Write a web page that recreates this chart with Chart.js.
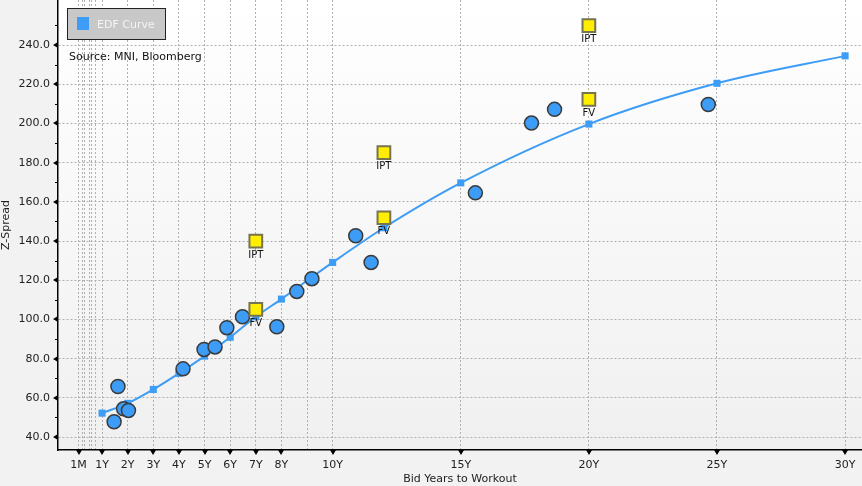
<!DOCTYPE html>
<html>
<head>
<meta charset="utf-8">
<script src="https://cdn.jsdelivr.net/npm/chart.js@4/dist/chart.umd.min.js"></script>
<style>
  html, body { margin: 0; padding: 0; background: #f2f2f2; }
  #wrap { width: 862px; height: 486px; }
</style>
</head>
<body>
<div id="wrap"><canvas id="edfChart"></canvas></div>
<script>
// EDF curve (years to workout vs z-spread)
const curveYears = [1, 2, 3, 4, 5, 6, 7, 8, 10, 12, 15, 20, 25, 30];
const curveSpread = [52.2, 57.2, 64.3, 72.5, 81.3, 90.9, 101.4, 110.4, 129.1, 146.8, 169.7, 199.7, 220.5, 234.5];

// existing bonds
const bondYears = [1.47, 1.62, 1.84, 2.03, 4.16, 4.98, 5.41, 5.87, 6.48, 7.82, 8.6, 9.19, 10.9, 11.5, 15.57, 17.76, 18.66, 24.66];
const bondSpread = [47.8, 65.8, 54.4, 53.6, 74.8, 84.7, 86.0, 95.8, 101.4, 96.3, 114.3, 120.8, 142.7, 129.1, 164.6, 200.2, 207.2, 209.7];

// new issue guidance
const fvYears = [7, 12, 20];
const fvSpread = [105.2, 151.9, 212.3];
const iptYears = [7, 12, 20];
const iptSpread = [140.0, 185.1, 249.9];

// axis ticks
const xGridValues = [1/12, 3/12, 4/12, 6/12, 7/12, 9/12, 1, 2, 3, 4, 5, 6, 7, 8, 9, 10, 15, 20, 25, 30];
const xTickValues = [1/12, 1, 2, 3, 4, 5, 6, 7, 8, 10, 15, 20, 25, 30];
const xTickLabels = ['1M', '1Y', '2Y', '3Y', '4Y', '5Y', '6Y', '7Y', '8Y', '10Y', '15Y', '20Y', '25Y', '30Y'];
const yTickValues = [40, 60, 80, 100, 120, 140, 160, 180, 200, 220, 240];

const FONT = 'DejaVu Sans';
const blue = '#3d9cf5';

const toPts = (xs, ys) => xs.map((x, i) => ({ x: x, y: ys[i] }));

const sameVal = (a, b) => Math.abs(a - b) < 1e-6;

// background gradient in plot area
const plotBg = {
    id: 'plotBg',
    beforeDraw(chart) {
        const { ctx, chartArea: a } = chart;
        const g = ctx.createLinearGradient(0, a.top, 0, a.bottom);
        g.addColorStop(0, '#ffffff');
        g.addColorStop(1, '#f0f0f0');
        ctx.save();
        ctx.fillStyle = g;
        ctx.fillRect(a.left, a.top, a.right - a.left, a.bottom - a.top);
        ctx.restore();
    }
};

// arrow ticks, minor ticks, labels, legend box
const extras = {
    id: 'extras',
    afterDraw(chart) {
        const { ctx, chartArea: a, scales } = chart;
        const xs = scales.x, ys = scales.y;
        ctx.save();
        ctx.fillStyle = '#000';
        xTickValues.forEach(v => {
            const px = Math.round(xs.getPixelForValue(v));
            ctx.beginPath();
            ctx.moveTo(px - 3, a.bottom);
            ctx.lineTo(px + 3, a.bottom);
            ctx.lineTo(px, a.bottom + 5);
            ctx.closePath();
            ctx.fill();
        });
        yTickValues.forEach(v => {
            const py = Math.round(ys.getPixelForValue(v));
            ctx.beginPath();
            ctx.moveTo(a.left, py - 3);
            ctx.lineTo(a.left, py + 3);
            ctx.lineTo(a.left - 5, py);
            ctx.closePath();
            ctx.fill();
        });
        ctx.strokeStyle = '#000';
        ctx.lineWidth = 1;
        for (let v = 50; v <= 250; v += 20) {
            const py = Math.round(ys.getPixelForValue(v)) + 0.5;
            ctx.beginPath();
            ctx.moveTo(a.left - 3, py);
            ctx.lineTo(a.left, py);
            ctx.stroke();
        }

        // IPT / FV labels under squares
        ctx.font = '10px ' + FONT;
        ctx.fillStyle = '#111';
        ctx.textAlign = 'center';
        ctx.textBaseline = 'middle';
        [[2, 'FV'], [3, 'IPT']].forEach(([idx, txt]) => {
            chart.getDatasetMeta(idx).data.forEach(pt => {
                ctx.fillText(txt, pt.x, pt.y + 14);
            });
        });

        // legend box
        const ds = chart.data.datasets[0];
        ctx.fillStyle = '#c8c8c8';
        ctx.fillRect(67, 8, 99, 32);
        ctx.strokeStyle = '#222';
        ctx.strokeRect(67.5, 8.5, 98, 31);
        ctx.fillStyle = ds.borderColor;
        ctx.fillRect(77, 17, 12, 13);
        ctx.fillStyle = '#f4f4f4';
        ctx.font = '11px ' + FONT;
        ctx.textAlign = 'left';
        ctx.fillText(ds.label, 97, 25);

        ctx.fillStyle = '#111';
        ctx.fillText('Source: MNI, Bloomberg', 69, 57);
        ctx.restore();
    }
};

const ctx = document.getElementById('edfChart').getContext('2d');
const edfChart = new Chart(ctx, {
    type: 'scatter',
    data: {
        datasets: [{
            label: 'EDF Curve',
            type: 'line',
            data: toPts(curveYears, curveSpread),
            borderColor: blue,
            backgroundColor: blue,
            borderWidth: 2,
            cubicInterpolationMode: 'monotone',
            pointStyle: 'rect',
            pointRadius: 5,
            pointBorderWidth: 0,
            order: 3
        }, {
            label: 'Bonds',
            data: toPts(bondYears, bondSpread),
            backgroundColor: blue,
            borderColor: '#3a3a3a',
            borderWidth: 1.5,
            pointRadius: 7,
            order: 2
        }, {
            label: 'FV',
            data: toPts(fvYears, fvSpread),
            pointStyle: 'rect',
            backgroundColor: '#ffee00',
            borderColor: '#76734f',
            borderWidth: 2,
            pointRadius: 9,
            order: 1
        }, {
            label: 'IPT',
            data: toPts(iptYears, iptSpread),
            pointStyle: 'rect',
            backgroundColor: '#ffee00',
            borderColor: '#76734f',
            borderWidth: 2,
            pointRadius: 9,
            order: 1
        }]
    },
    options: {
        responsive: true,
        maintainAspectRatio: false,
        animation: false,
        layout: { padding: 0, autoPadding: false },
        plugins: {
            legend: { display: false },
            tooltip: { enabled: false }
        },
        scales: {
            x: {
                type: 'linear',
                min: -0.72,
                max: 30.66,
                afterBuildTicks: scale => {
                    scale.ticks = xGridValues.map(v => ({ value: v }));
                },
                afterFit: scale => {
                    scale.height = 36;
                    scale.paddingLeft = 0;
                    scale.paddingRight = 0;
                },
                ticks: {
                    autoSkip: false,
                    maxRotation: 0,
                    padding: 2,
                    color: '#222',
                    font: { family: FONT, size: 11 },
                    callback: value => {
                        const i = xTickValues.findIndex(v => sameVal(v, value));
                        return i >= 0 ? xTickLabels[i] : '';
                    }
                },
                grid: {
                    color: '#b0b0b0',
                    tickColor: 'rgba(0,0,0,0)',
                    tickLength: 7,
                    drawOnChartArea: true
                },
                border: { color: '#000', width: 1.5, dash: [2, 2] },
                title: {
                    display: true,
                    text: 'Bid Years to Workout',
                    color: '#222',
                    font: { family: FONT, size: 11 },
                    padding: { top: 0, bottom: 0 }
                }
            },
            y: {
                min: 33.4,
                max: 263,
                afterBuildTicks: scale => {
                    scale.ticks = yTickValues.map(v => ({ value: v }));
                },
                afterFit: scale => {
                    scale.width = 58;
                    scale.paddingTop = 0;
                    scale.paddingBottom = 0;
                },
                ticks: {
                    padding: 1,
                    color: '#222',
                    font: { family: FONT, size: 11 },
                    callback: value => value.toFixed(1)
                },
                grid: {
                    color: '#b0b0b0',
                    tickColor: 'rgba(0,0,0,0)',
                    tickLength: 7
                },
                border: { color: '#000', width: 1.5, dash: [2, 2] },
                title: {
                    display: true,
                    text: 'Z-Spread',
                    color: '#222',
                    font: { family: FONT, size: 11 },
                    padding: 0
                }
            }
        }
    },
    plugins: [plotBg, extras]
});
</script>
</body>
</html>
